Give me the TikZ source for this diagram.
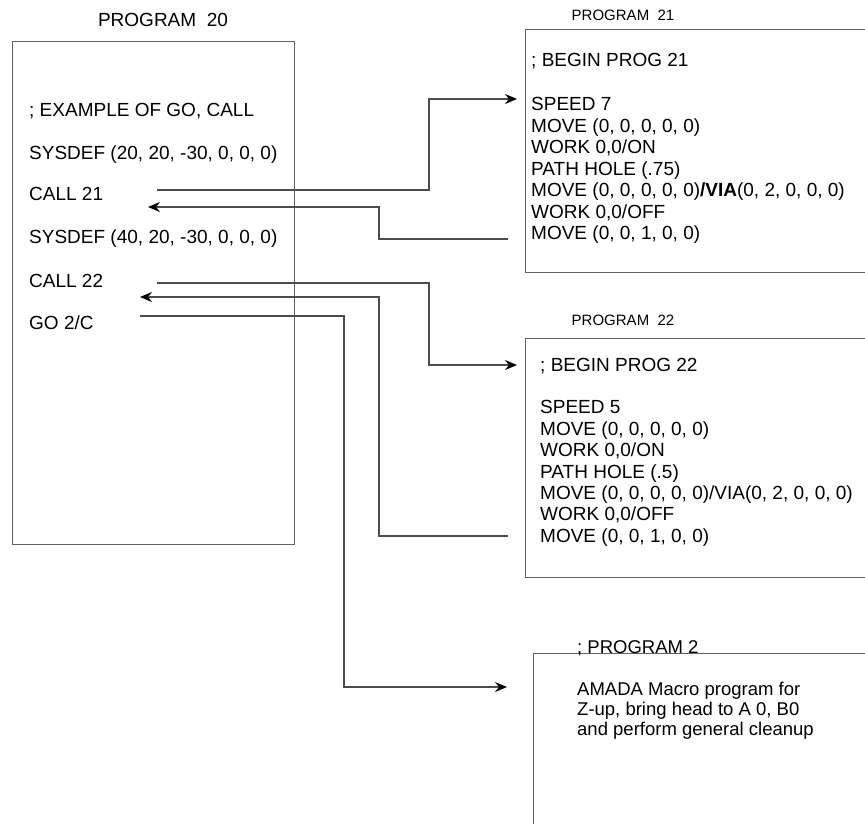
\documentclass[tikz,border=0pt]{standalone}
\usepackage{fontspec}
\setmainfont{Liberation Sans}
\usetikzlibrary{arrows.meta}
\begin{document}
\begin{tikzpicture}[x=1pt,y=-1pt,
  txt/.style={anchor=west,inner sep=0pt,text height=13.6pt,text depth=0pt,font=\fontsize{19}{21}\selectfont},
  smalltxt/.style={anchor=west,inner sep=0pt,text height=13.2pt,text depth=0pt,font=\fontsize{18.5}{20}\selectfont},
  titletxt/.style={anchor=center,inner sep=0pt,text height=13.6pt,text depth=0pt,font=\fontsize{19}{21}\selectfont},
  subtitletxt/.style={anchor=center,inner sep=0pt,text height=10.8pt,text depth=0pt,font=\fontsize{15}{17}\selectfont},
  frame/.style={draw=black!62,line width=1.3pt,anchor=north west,inner sep=0pt},
  conn/.style={draw=black!70,line width=1.2pt},
  arr/.style={conn,-{Stealth[length=12pt,width=10pt,inset=4pt,color=black]}}
]
\useasboundingbox (0,0) rectangle (865,823);
\clip (0,0) rectangle (865,823);

% boxes
\node[frame,minimum width=282pt,minimum height=503pt] (b20) at (12,41) {};
\node[frame,minimum width=360pt,minimum height=243pt] (b21) at (525,29) {};
\node[frame,minimum width=360pt,minimum height=239pt] (b22) at (525,338) {};
\node[frame,minimum width=360pt,minimum height=200pt] (b2) at (533,653) {};

% titles
\node[titletxt] (t20) at (163,20) {PROGRAM\ \ 20};
\node[subtitletxt] (t21) at (623,15) {PROGRAM\ \ 21};
\node[subtitletxt] (t22) at (623,320) {PROGRAM\ \ 22};

% program 20
\node[txt] (p20a) at (29,110) {; EXAMPLE OF GO, CALL};
\node[txt] (p20b) at (29,153) {SYSDEF (20, 20, -30, 0, 0, 0)};
\node[txt] (p20c) at (29,194) {CALL 21};
\node[txt] (p20d) at (29,237) {SYSDEF (40, 20, -30, 0, 0, 0)};
\node[txt] (p20e) at (29,281) {CALL 22};
\node[txt] (p20f) at (29,323) {GO 2/C};

% program 21
\node[txt] (p21a) at (531,60) {; BEGIN PROG 21};
\node[txt] (p21b) at (531,104) {SPEED 7};
\node[txt] (p21c) at (531,125.5) {MOVE (0, 0, 0, 0, 0)};
\node[txt] (p21d) at (531,147) {WORK 0,0/ON};
\node[txt] (p21e) at (531,168.5) {PATH HOLE (.75)};
\node[txt] (p21f) at (531,190) {MOVE (0, 0, 0, 0, 0)\textbf{/VIA}(0, 2, 0, 0, 0)};
\node[txt] (p21g) at (531,211.5) {WORK 0,0/OFF};
\node[txt] (p21h) at (531,233) {MOVE (0, 0, 1, 0, 0)};

% program 22
\node[txt] (p22a) at (540,365) {; BEGIN PROG 22};
\node[txt] (p22b) at (540,407) {SPEED 5};
\node[txt] (p22c) at (540,428.4) {MOVE (0, 0, 0, 0, 0)};
\node[txt] (p22d) at (540,449.8) {WORK 0,0/ON};
\node[txt] (p22e) at (540,471.2) {PATH HOLE (.5)};
\node[txt] (p22f) at (540,492.6) {MOVE (0, 0, 0, 0, 0)/VIA(0, 2, 0, 0, 0)};
\node[txt] (p22g) at (540,514) {WORK 0,0/OFF};
\node[txt] (p22h) at (540,535.4) {MOVE (0, 0, 1, 0, 0)};

% program 2
\node[smalltxt] (p2a) at (577,647) {; PROGRAM 2};
\node[smalltxt] (p2b) at (577,689) {AMADA Macro program for};
\node[smalltxt] (p2c) at (577,709) {Z-up, bring head to A 0, B0};
\node[smalltxt] (p2d) at (577,728.5) {and perform general cleanup};

% connector ends
\coordinate (o21) at (157,190);
\coordinate (i21) at (517,99);
\coordinate (r21s) at (508,239);
\coordinate (r21t) at (148,207);
\coordinate (o22) at (157,283);
\coordinate (i22) at (517,365);
\coordinate (r22s) at (508,536);
\coordinate (r22t) at (140,297);
\coordinate (ogo) at (140,316);
\coordinate (igo) at (507,687);

\draw[arr] (o21) -- (429,190) |- (i21);
\draw[arr] (r21s) -- (379,239) |- (r21t);
\draw[arr] (o22) -- (429,283) |- (i22);
\draw[arr] (r22s) -- (379,536) |- (r22t);
\draw[arr] (ogo) -- (344,316) |- (igo);
\end{tikzpicture}
\end{document}
